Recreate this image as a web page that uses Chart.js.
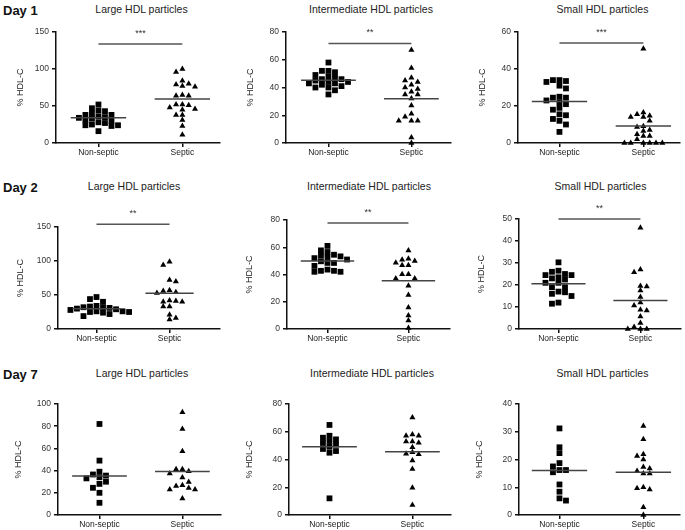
<!DOCTYPE html>
<html><head><meta charset="utf-8">
<script src="https://cdn.jsdelivr.net/npm/chart.js@4"></script>
<style>
body{margin:0;background:#fff;width:685px;height:530px;position:relative;overflow:hidden;font-family:"Liberation Sans",Arial,sans-serif;}
.day{position:absolute;left:3px;font-weight:bold;font-size:13px;color:#111;transform:translateY(-50%);white-space:nowrap;}
.ttl{position:absolute;font-size:10.5px;color:#222;transform:translate(-50%,-50%);white-space:nowrap;}
canvas{position:absolute;}
</style></head><body>
<script>
// ---------- DATA ----------
const days = ["Day 1", "Day 2", "Day 7"];
const particleTitles = ["Large HDL particles", "Intermediate HDL particles", "Small HDL particles"];
const groups = ["Non-septic", "Septic"];
const yTitle = "% HDL-C";

const d1LargeNS = [52, 47, 44, 43, 40, 38, 38, 36, 35, 34, 33, 31, 30, 28, 27, 25, 24, 24, 23, 16];
const d1LargeS  = [100, 96, 84, 80, 79, 77, 76, 65, 64, 64, 52, 52, 51, 48, 46, 45, 38, 38, 31, 23, 11];
const d1InterNS = [58, 52, 52, 51, 49, 48, 47, 46, 46, 45, 44, 44, 43, 43, 42, 41, 40, 40, 38, 35];
const d1InterS  = [67, 54, 47, 45, 44, 42, 40, 39, 37, 35, 35, 32, 27, 21, 19, 16, 16, 16, 4, 0];
const d1SmallNS = [34, 34, 33.5, 33, 31, 29.5, 25, 24.5, 24.5, 23, 22, 21, 19, 18, 15.5, 15, 13, 12, 10, 6];
const d1SmallS  = [51, 16.5, 15.5, 14.7, 14, 14, 12, 9, 8.7, 7, 6.5, 4.7, 3.8, 3.8, 2, 0, 0, 0, 0, 0, 0];

const d2LargeNS = [47, 44, 40, 34, 33, 32, 32, 31, 30, 29, 28, 26, 26, 25, 25, 24, 22, 19];
const d2LargeS  = [99, 94, 72, 70, 57, 56, 54, 53, 42, 41, 40, 40, 33, 33, 21, 16, 14];
const d2InterNS = [61, 57.7, 56.5, 54.5, 54, 53.3, 52.8, 52, 51, 49.7, 48.5, 48.5, 46.3, 43.6, 42.7, 42.7, 42, 42];
const d2InterS  = [57.7, 51.6, 50.9, 49.9, 48.7, 46.8, 46.8, 40.2, 40.2, 37, 37, 31.8, 25, 15.8, 10, 6.3, 0.7];
const d2SmallNS = [30.3, 26.5, 26, 25, 24.5, 24.5, 23.5, 23, 22.5, 21, 21, 19, 19, 17, 16.7, 16, 15, 12, 11.5];
const d2SmallS  = [46, 27.1, 25.8, 19.6, 19.3, 17.5, 14.5, 12, 10.7, 8.7, 8.4, 5.7, 2.7, 0.9, 0, 0, 0];

const d7LargeNS = [82, 49, 39, 36.5, 35.5, 34, 33, 30, 28, 24.5, 20, 11];
const d7LargeS  = [92.5, 77.4, 57.5, 41.3, 41.3, 39.5, 37.3, 33.7, 29.8, 26.8, 26.2, 24.4, 22.9, 22.9, 14.8];
const d7InterNS = [64.9, 57.1, 55.7, 54.5, 53.3, 51.9, 50.7, 49.2, 47.6, 46.1, 44.9, 12];
const d7InterS  = [70.2, 58.1, 57.2, 57.2, 52.9, 52.9, 52.1, 48.8, 45.2, 44.2, 43.7, 39.2, 33.2, 19.7, 7.2];
const d7SmallNS = [31.2, 24.4, 22.3, 18.7, 17.5, 16.2, 16.2, 15.4, 11, 8.4, 6, 5.2];
const d7SmallS  = [32.1, 27.3, 21.9, 21.3, 20, 17.3, 16.8, 15.9, 15, 15, 10, 9.6, 9.2, 2.8, 0];

// mean lines
const meanNonSeptic = [34, 45.2, 22.5, 29.7, 49.9, 20.6, 35.2, 49.2, 16.0];
const meanSeptic    = [59.4, 31.9, 9.2, 52.6, 35.4, 13.0, 39.2, 45.6, 15.4];

// y axis max and tick step per panel
const yMaxes = [150, 80, 60, 150, 80, 50, 100, 80, 40];
const ySteps = [50, 20, 20, 50, 20, 10, 20, 20, 10];

// significance
const sigLabels = ["***", "**", "***", "**", "**", "**", "", "", ""];
const sigBarValues = [133.7, 71.8, 54, 154, 77.8, 50, null, null, null];

// ---------- LAYOUT (styles/positions) ----------
const FONT = '"Liberation Sans", Arial, sans-serif';
const geom = [
  {l:56, t:32, b:143, r:222, c0:99, c1:184},
  {l:286,t:32, b:143, r:453, c0:329,c1:413},
  {l:518,t:32, b:143, r:682, c0:560,c1:645},
  {l:58, t:227,b:329, r:222, c0:97, c1:171},
  {l:287,t:220,b:329, r:452, c0:328,c1:410},
  {l:519,t:219,b:329, r:683, c0:559,c1:642},
  {l:58, t:404,b:515, r:223, c0:100,c1:184},
  {l:289,t:404,b:515, r:453, c0:330,c1:414},
  {l:519,t:404,b:515, r:682, c0:560,c1:645}
];
const titleY = [9, 186, 373];
const dayY = [10, 187, 374];
const yTitleDist = [35, 37, 39];
const Y_AX_W = 46, PAD_T = 32, X_AX_H = 22, PAD_R = 2;
const MEAN_HW = 0.33;

const dataNS = [d1LargeNS, d1InterNS, d1SmallNS, d2LargeNS, d2InterNS, d2SmallNS, d7LargeNS, d7InterNS, d7SmallNS];
const dataS  = [d1LargeS, d1InterS, d1SmallS, d2LargeS, d2InterS, d2SmallS, d7LargeS, d7InterS, d7SmallS];

// beeswarm layout: returns x offsets in pixels
function swarm(vals, pxPerY, step, thr) {
  const order = vals.map((v, i) => i).sort((a, b) => vals[b] - vals[a]);
  const placed = [];
  const out = new Array(vals.length).fill(0);
  let flip = 1;
  for (const i of order) {
    const y = vals[i] * pxPerY;
    const near = placed.filter(p => Math.abs(p.y - y) < thr);
    const cands = [0];
    near.forEach(p => { cands.push(p.x - step, p.x + step); });
    cands.sort((a, b) => (Math.abs(a) - Math.abs(b)) || (flip * (a - b)));
    const x = cands.find(c => near.every(p => Math.abs(p.x - c) >= step - 0.01));
    if (x !== 0) flip = -flip;
    placed.push({x, y});
    out[i] = x;
  }
  return out;
}

const sigPlugin = {
  id: 'sig',
  afterDraw(chart, args, opts) {
    if (!opts.label) return;
    const {ctx} = chart;
    const x = chart.scales.x, y = chart.scales.y;
    const yp = y.getPixelForValue(opts.barY);
    const x0 = x.getPixelForValue(0), x1 = x.getPixelForValue(1);
    ctx.save();
    ctx.strokeStyle = '#555';
    ctx.lineWidth = 1.5;
    ctx.beginPath(); ctx.moveTo(x0, yp); ctx.lineTo(x1, yp); ctx.stroke();
    ctx.fillStyle = '#333';
    ctx.font = '9px ' + FONT;
    ctx.textAlign = 'center';
    ctx.textBaseline = 'alphabetic';
    ctx.fillText(opts.label, (x0 + x1) / 2, yp - 8);
    ctx.restore();
  }
};

days.forEach((d, row) => {
  const el = document.createElement('div');
  el.className = 'day'; el.textContent = d; el.style.top = dayY[row] + 'px';
  document.body.appendChild(el);
});

geom.forEach((g, k) => {
  const row = Math.floor(k / 3), col = k % 3;
  const t = document.createElement('div');
  t.className = 'ttl'; t.textContent = particleTitles[col];
  t.style.left = ((g.c0 + g.c1) / 2) + 'px'; t.style.top = titleY[row] + 'px';
  document.body.appendChild(t);

  const cl = g.l - Y_AX_W, ct = g.t - PAD_T;
  const cw = g.r - cl + PAD_R, ch = g.b + X_AX_H - ct;
  const cv = document.createElement('canvas');
  cv.width = cw; cv.height = ch;
  cv.style.width = cw + 'px'; cv.style.height = ch + 'px';
  cv.style.left = '0px'; cv.style.top = '0px';
  const wrap = document.createElement('div');
  wrap.style.cssText = `position:absolute;left:${cl}px;top:${ct}px;width:${cw}px;height:${ch}px;`;
  wrap.appendChild(cv);
  document.body.appendChild(wrap);

  const span = g.c1 - g.c0;
  const xmin = (g.l - g.c0) / span, xmax = 1 + (g.r - g.c1) / span;
  const pxPerY = (g.b - g.t) / yMaxes[k];
  const offNS = swarm(dataNS[k], pxPerY, 6.6, 4.8);
  const offS = swarm(dataS[k], pxPerY, 6.4, 4.6);

  const yTitlePad = Y_AX_W - yTitleDist[row] - 5.4;

  new Chart(cv, {
    type: 'scatter',
    data: {
      datasets: [
        {data: [{x: -MEAN_HW, y: meanNonSeptic[k]}, {x: MEAN_HW, y: meanNonSeptic[k]}],
         showLine: true, borderColor: '#444', borderWidth: 1.5, pointRadius: 0, clip: false},
        {data: [{x: 1 - MEAN_HW, y: meanSeptic[k]}, {x: 1 + MEAN_HW, y: meanSeptic[k]}],
         showLine: true, borderColor: '#444', borderWidth: 1.5, pointRadius: 0, clip: false},
        {data: dataNS[k].map((v, i) => ({x: offNS[i] / span, y: v})),
         pointStyle: 'rect', pointRadius: 4.1, backgroundColor: '#000', borderColor: '#000', borderWidth: 0, clip: false},
        {data: dataS[k].map((v, i) => ({x: 1 + offS[i] / span, y: v})),
         pointStyle: 'triangle', pointRadius: 3.5, backgroundColor: '#000', borderColor: '#000', borderWidth: 0, clip: false}
      ]
    },
    options: {
      responsive: false, animation: false, events: [],
      layout: {padding: {top: PAD_T, right: PAD_R, left: 0, bottom: 0}},
      plugins: {legend: {display: false}, tooltip: {enabled: false},
                sig: {label: sigLabels[k], barY: sigBarValues[k]}},
      scales: {
        x: {
          type: 'linear', min: xmin, max: xmax,
          afterBuildTicks(s) { s.ticks = [{value: 0}, {value: 1}]; },
          ticks: {callback: v => groups[Math.round(v)], font: {size: 8.5, family: FONT}, color: '#222',
                  maxRotation: 0, autoSkip: false, padding: 1},
          grid: {display: true, drawOnChartArea: false, drawTicks: true, tickLength: 4, color: '#111', lineWidth: 1.5},
          border: {display: true, color: '#111', width: 1.5},
          afterFit(s) { s.height = X_AX_H; }
        },
        y: {
          min: 0, max: yMaxes[k],
          ticks: {stepSize: ySteps[k], font: {size: 8.5, family: FONT}, color: '#333', padding: 3},
          grid: {display: true, drawOnChartArea: false, drawTicks: true, tickLength: 4, color: '#111', lineWidth: 1.5},
          border: {display: true, color: '#111', width: 1.5},
          title: {display: true, text: yTitle, font: {size: 9, family: FONT}, color: '#222',
                  padding: {top: yTitlePad, bottom: 0}},
          afterFit(s) { s.width = Y_AX_W; }
        }
      }
    },
    plugins: [sigPlugin]
  });
});
</script>
</body></html>
